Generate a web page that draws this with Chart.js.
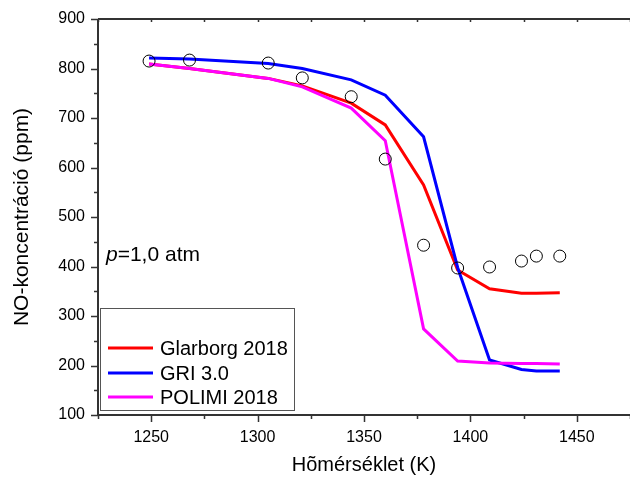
<!DOCTYPE html>
<html>
<head>
<meta charset="utf-8">
<script src="https://cdn.jsdelivr.net/npm/chart.js@4"></script>
<style>
  body { margin: 0; background: #fff; }
  #chart { display: block; }
</style>
</head>
<body>
<canvas id="chart" width="630" height="479"></canvas>
<script>
// hőmérséklet (K)
const temps = [1249, 1268, 1305, 1321, 1344, 1360, 1378, 1394, 1409, 1424, 1431, 1442];
// mért NO (ppm)
const measured = [815, 817, 811, 781, 743, 617, 443, 397, 399, 411, 421, 421];
// modellek
const glarborg = [809, 800, 780, 765, 730, 686, 565, 393, 355, 346, 346, 347];
const gri = [821, 819, 810, 800, 777, 746, 662, 398, 211, 192, 189, 189];
const polimi = [809, 800, 780, 763, 720, 654, 274, 209, 205, 204, 204, 203];

const xTicks = [1250, 1300, 1350, 1400, 1450];
const yTicks = [100, 200, 300, 400, 500, 600, 700, 800, 900];

function pts(ys) {
  return temps.map((t, i) => ({ x: t, y: ys[i] }));
}

const FONT = "'Liberation Sans', Arial, sans-serif";

const framePlugin = {
  id: 'frame',
  afterDraw(chart) {
    const ctx = chart.ctx;
    const a = chart.chartArea;
    const xs = chart.scales.x, ys = chart.scales.y;
    ctx.save();
    ctx.strokeStyle = '#333';
    ctx.lineWidth = 2;
    ctx.beginPath();
    ctx.moveTo(a.left, a.top);
    ctx.lineTo(a.right, a.top);
    ctx.moveTo(a.left, a.top);
    ctx.lineTo(a.left, a.bottom);
    ctx.lineTo(a.right, a.bottom);
    ctx.stroke();

    ctx.lineWidth = 1.5;
    ctx.beginPath();
    for (let v = 1225; v <= 1475; v += 25) {
      const px = Math.round(xs.getPixelForValue(v)) + 0.5;
      const len = v % 50 === 0 ? 7 : 4;
      ctx.moveTo(px, a.bottom);
      ctx.lineTo(px, a.bottom + len);
      ctx.moveTo(px, a.top);
      ctx.lineTo(px, a.top + 3);
    }
    for (let v = 100; v <= 900; v += 50) {
      const py = Math.round(ys.getPixelForValue(v)) + 0.5;
      const len = v % 100 === 0 ? 7 : 4;
      ctx.moveTo(a.left, py);
      ctx.lineTo(a.left - len, py);
    }
    ctx.stroke();

    // p=1,0 atm
    ctx.fillStyle = '#000';
    ctx.textBaseline = 'alphabetic';
    ctx.font = 'italic 21px ' + FONT;
    ctx.fillText('p', 106, 261);
    const pw = ctx.measureText('p').width;
    ctx.font = '21px ' + FONT;
    ctx.fillText('=1,0 atm', 106 + pw, 261);

    // jelmagyarázat
    ctx.strokeStyle = '#555';
    ctx.lineWidth = 1;
    ctx.strokeRect(100.5, 308.5, 194, 102);
    const items = chart.data.datasets.filter(d => d.showLine);
    const rowY = [348, 373, 397];
    ctx.font = '20px ' + FONT;
    ctx.textBaseline = 'middle';
    items.forEach((d, i) => {
      ctx.strokeStyle = d.borderColor;
      ctx.lineWidth = 3;
      ctx.beginPath();
      ctx.moveTo(108, rowY[i]);
      ctx.lineTo(153, rowY[i]);
      ctx.stroke();
      ctx.fillStyle = '#000';
      ctx.fillText(d.label, 160, rowY[i] + 1);
    });
    ctx.restore();
  }
};

const lineStyle = {
  showLine: true,
  borderWidth: 3,
  pointRadius: 0,
  tension: 0,
  fill: false
};

new Chart(document.getElementById('chart'), {
  type: 'scatter',
  data: {
    datasets: [
      Object.assign({ label: 'Glarborg 2018', data: pts(glarborg), borderColor: '#ff0000', order: 3 }, lineStyle),
      Object.assign({ label: 'GRI 3.0', data: pts(gri), borderColor: '#0000ff', order: 2 }, lineStyle),
      Object.assign({ label: 'POLIMI 2018', data: pts(polimi), borderColor: '#ff00ff', order: 1 }, lineStyle),
      {
        label: 'mért',
        data: pts(measured),
        showLine: false,
        pointStyle: 'circle',
        pointRadius: 6,
        pointBorderWidth: 1,
        pointBorderColor: '#000',
        pointBackgroundColor: 'rgba(0,0,0,0)',
        order: 0
      }
    ]
  },
  options: {
    responsive: false,
    animation: false,
    layout: { autoPadding: false, padding: { top: 19, left: 0, right: 0, bottom: 0 } },
    plugins: {
      legend: { display: false },
      tooltip: { enabled: false }
    },
    scales: {
      x: {
        type: 'linear',
        min: 1225,
        max: 1475,
        afterFit(scale) {
          scale.height = 64;
          scale.paddingLeft = 0;
          scale.paddingRight = 0;
        },
        afterBuildTicks(scale) { scale.ticks = xTicks.map(v => ({ value: v })); },
        grid: { display: false, drawTicks: false },
        border: { display: false },
        ticks: {
          color: '#000',
          font: { family: FONT, size: 16 },
          padding: 13,
          maxRotation: 0,
          callback: v => String(v)
        },
        title: {
          display: true,
          text: 'Hõmérséklet (K)',
          color: '#000',
          font: { family: FONT, size: 20 },
          padding: { top: 0, bottom: 2 }
        }
      },
      y: {
        min: 100,
        max: 900,
        afterFit(scale) {
          scale.width = 98;
          scale.paddingTop = 0;
          scale.paddingBottom = 0;
        },
        afterBuildTicks(scale) { scale.ticks = yTicks.map(v => ({ value: v })); },
        grid: { display: false, drawTicks: false },
        border: { display: false },
        ticks: {
          color: '#000',
          font: { family: FONT, size: 16 },
          padding: 13,
          callback: v => String(v)
        },
        title: {
          display: true,
          text: 'NO-koncentráció (ppm)',
          color: '#000',
          font: { family: FONT, size: 21 },
          padding: { top: 10, bottom: 0 }
        }
      }
    }
  },
  plugins: [framePlugin]
});
</script>
</body>
</html>
